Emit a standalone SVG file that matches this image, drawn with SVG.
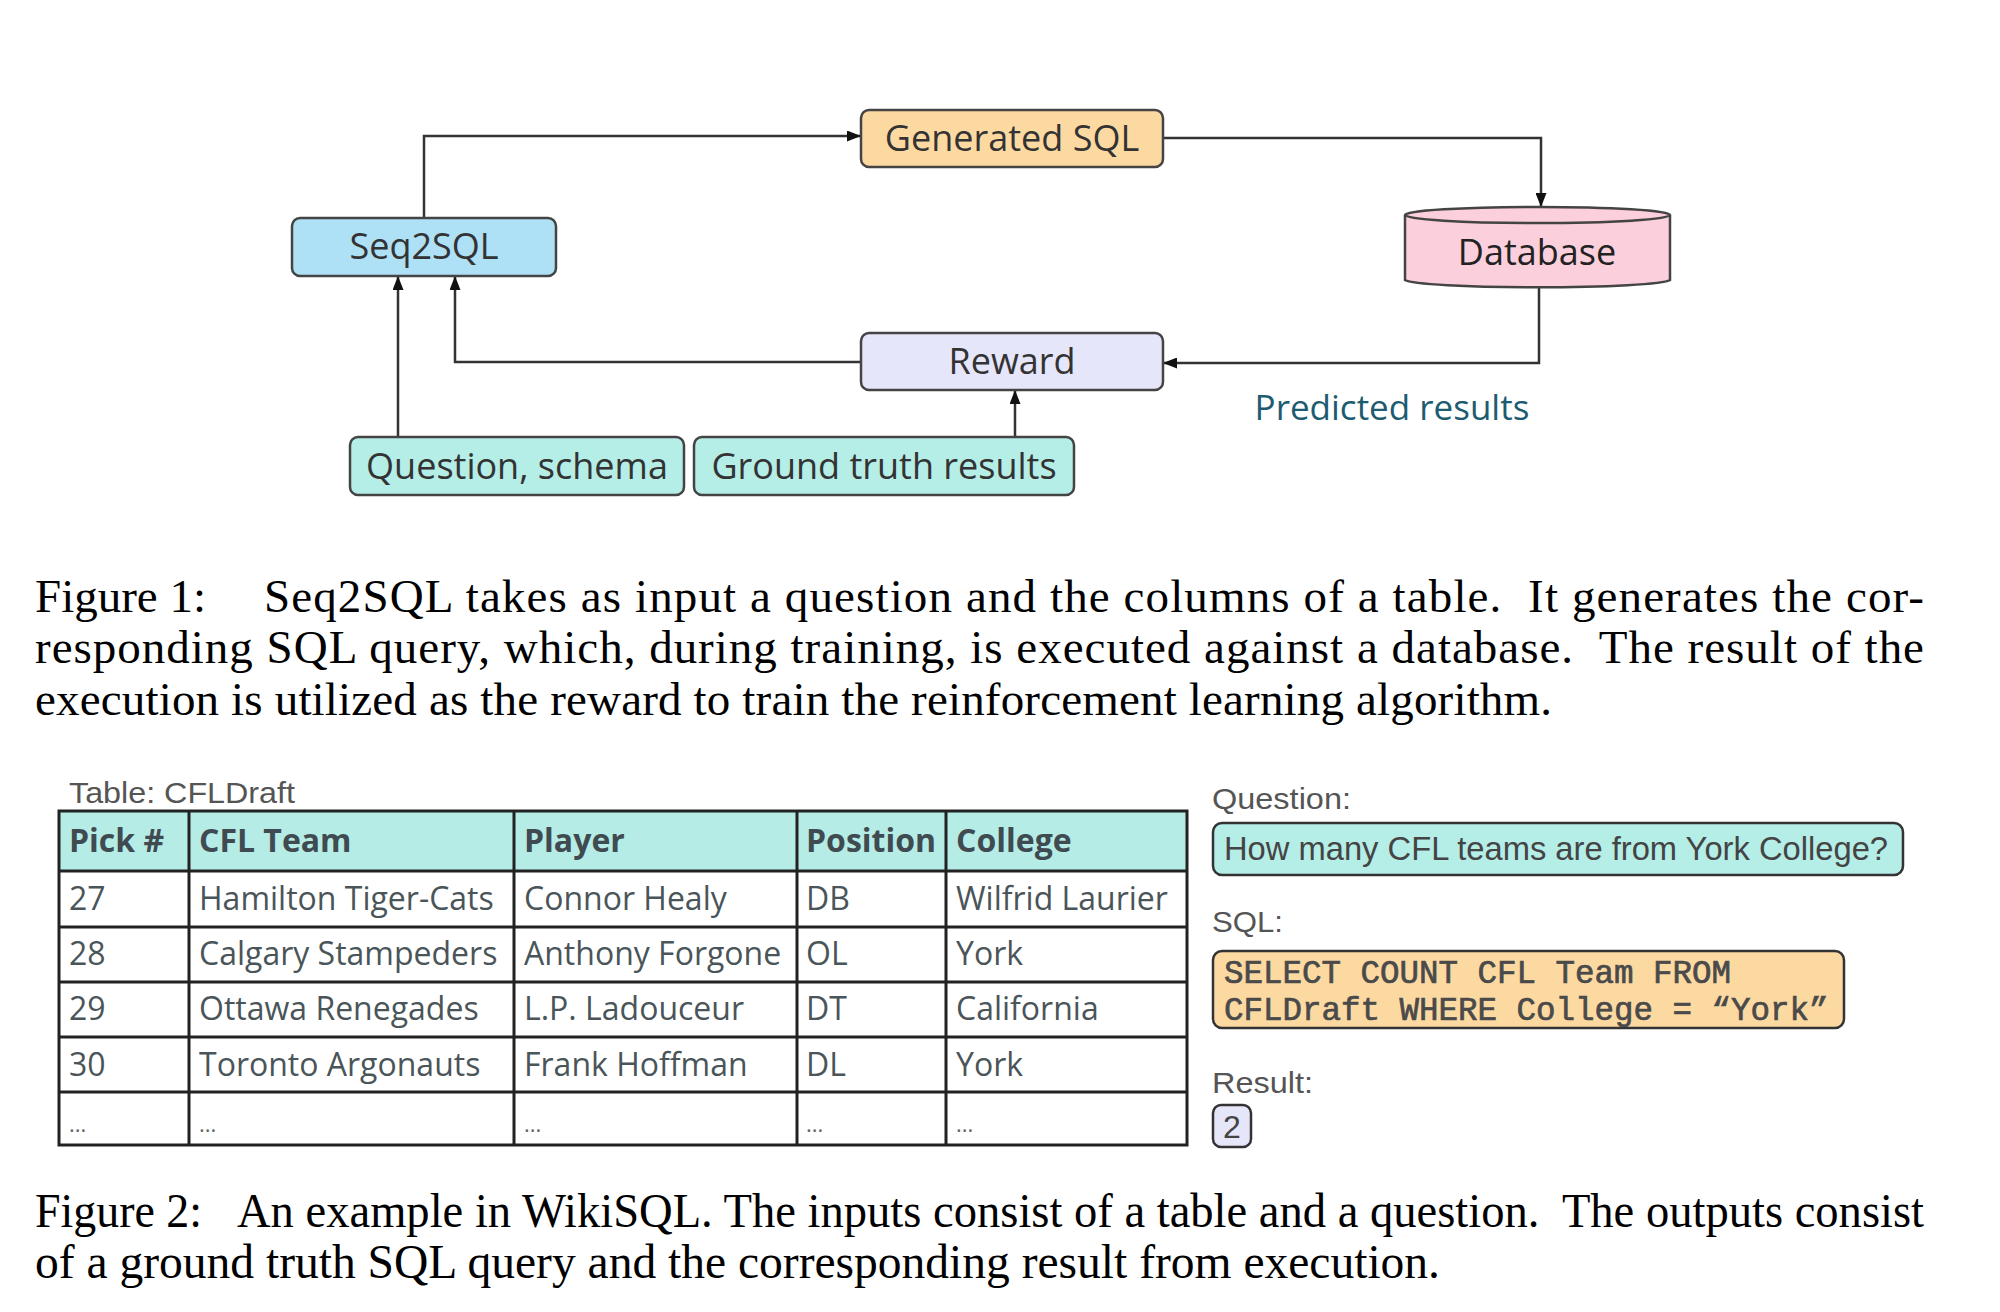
<svg xmlns="http://www.w3.org/2000/svg" width="2000" height="1312" viewBox="0 0 2000 1312">
<defs>
<marker id="arr" viewBox="0 0 14 11" refX="14" refY="5.5" markerWidth="14" markerHeight="11" markerUnits="userSpaceOnUse" orient="auto">
<path d="M0,0 L14,5.5 L0,11 Z" fill="#111"/>
</marker>
<style>
.box{stroke:#444;stroke-width:2.5}
.nt{font-family:"Open Sans","Noto Sans",sans-serif;font-size:36px;fill:#333;text-anchor:middle}
.conn{fill:none;stroke:#333;stroke-width:2.5}
.cap{font-family:"Liberation Serif","Times New Roman",serif;fill:#000}
.cell{font-family:"Open Sans","Noto Sans",sans-serif;font-size:32px;fill:#4a5559}
.dots{font-family:"Open Sans","Noto Sans",sans-serif;font-size:22px;fill:#666}
.hdr{font-family:"Open Sans","Noto Sans",sans-serif;font-size:32px;fill:#3f4b50;font-weight:bold}
.grid{stroke:#222;stroke-width:3;fill:none}
.lbl{font-family:"Liberation Sans",Arial,sans-serif;font-size:30px;fill:#555}
.mono{font-family:"Liberation Mono","Courier New",monospace;font-size:32.5px;fill:#4a4a4a;stroke:#4a4a4a;stroke-width:0.7}
</style>
</defs>
<rect width="2000" height="1312" fill="#fff"/>

<g id="connectors">
<path class="conn" d="M424,218 V136 H861" marker-end="url(#arr)"/>
<path class="conn" d="M1163,138 H1541 V207" marker-end="url(#arr)"/>
<path class="conn" d="M1539,287 V363 H1163" marker-end="url(#arr)"/>
<path class="conn" d="M861,362 H455 V276" marker-end="url(#arr)"/>
<path class="conn" d="M398,437 V276" marker-end="url(#arr)"/>
<path class="conn" d="M1015,437 V390" marker-end="url(#arr)"/>
</g>

<g id="node-generated-sql">
<rect class="box" x="861" y="110" width="302" height="57" rx="8" fill="#fdd9a2"/>
<text class="nt" x="1012" y="151">Generated SQL</text>
</g>
<g id="node-seq2sql">
<rect class="box" x="292" y="218" width="264" height="58" rx="8" fill="#aee0f6"/>
<text class="nt" x="424" y="259">Seq2SQL</text>
</g>
<g id="node-database">
<path class="box" d="M1405,215 V280 A133,8 0 0 0 1670,280 V215" fill="#fccfdc"/>
<ellipse class="box" cx="1537.5" cy="215" rx="132.5" ry="8" fill="#fccfdc"/>
<text class="nt" x="1537" y="265" style="fill:#222">Database</text>
</g>
<g id="node-reward">
<rect class="box" x="861" y="333" width="302" height="57" rx="8" fill="#e6e6fa"/>
<text class="nt" x="1012" y="374">Reward</text>
</g>
<g id="node-question-schema">
<rect class="box" x="350" y="437" width="334" height="58" rx="8" fill="#b5ede7"/>
<text class="nt" x="517" y="479">Question, schema</text>
</g>
<g id="node-ground-truth">
<rect class="box" x="694" y="437" width="380" height="58" rx="8" fill="#b5ede7"/>
<text class="nt" x="884" y="479">Ground truth results</text>
</g>
<g id="label-predicted">
<text x="1392" y="420" font-family="Open Sans,Noto Sans,sans-serif" font-size="35" fill="#1d5c70" text-anchor="middle">Predicted results</text>
</g>

<g id="caption1" class="cap" font-size="47">
<text x="35" y="612">Figure 1:</text>
<text x="264" y="612" textLength="1660" lengthAdjust="spacing" xml:space="preserve">Seq2SQL takes as input a question and the columns of a table.  It generates the cor-</text>
<text x="35" y="663" textLength="1889" lengthAdjust="spacing" xml:space="preserve">responding SQL query, which, during training, is executed against a database.  The result of the</text>
<text x="35" y="715" textLength="1517" lengthAdjust="spacing">execution is utilized as the reward to train the reinforcement learning algorithm.</text>
</g>

<g id="table">
<text class="lbl" x="69" y="803" textLength="226" lengthAdjust="spacingAndGlyphs">Table: CFLDraft</text>
<rect x="59" y="811" width="1128" height="60" fill="#b5ece6"/>
<rect class="grid" x="59" y="811" width="1128" height="334"/>
<path class="grid" d="M59,871 H1187 M59,927 H1187 M59,982 H1187 M59,1037 H1187 M59,1092 H1187 M189,811 V1145 M514,811 V1145 M797,811 V1145 M946,811 V1145"/>
<text class="hdr" x="69" y="852">Pick #</text>
<text class="hdr" x="199" y="852">CFL Team</text>
<text class="hdr" x="524" y="852">Player</text>
<text class="hdr" x="806" y="852">Position</text>
<text class="hdr" x="956" y="852">College</text>
<text class="cell" x="69" y="910">27</text>
<text class="cell" x="199" y="910">Hamilton Tiger-Cats</text>
<text class="cell" x="524" y="910">Connor Healy</text>
<text class="cell" x="806" y="910">DB</text>
<text class="cell" x="956" y="910">Wilfrid Laurier</text>
<text class="cell" x="69" y="965">28</text>
<text class="cell" x="199" y="965">Calgary Stampeders</text>
<text class="cell" x="524" y="965">Anthony Forgone</text>
<text class="cell" x="806" y="965">OL</text>
<text class="cell" x="956" y="965">York</text>
<text class="cell" x="69" y="1020">29</text>
<text class="cell" x="199" y="1020">Ottawa Renegades</text>
<text class="cell" x="524" y="1020">L.P. Ladouceur</text>
<text class="cell" x="806" y="1020">DT</text>
<text class="cell" x="956" y="1020">California</text>
<text class="cell" x="69" y="1076">30</text>
<text class="cell" x="199" y="1076">Toronto Argonauts</text>
<text class="cell" x="524" y="1076">Frank Hoffman</text>
<text class="cell" x="806" y="1076">DL</text>
<text class="cell" x="956" y="1076">York</text>
<text class="dots" x="69" y="1132">...</text>
<text class="dots" x="199" y="1132">...</text>
<text class="dots" x="524" y="1132">...</text>
<text class="dots" x="806" y="1132">...</text>
<text class="dots" x="956" y="1132">...</text>
</g>

<g id="question">
<text class="lbl" x="1212" y="809" textLength="139" lengthAdjust="spacingAndGlyphs">Question:</text>
<rect class="box" x="1213" y="823" width="690" height="52" rx="9" fill="#b5ede7" style="stroke:#333"/>
<text x="1224" y="860" font-family="Liberation Sans,Arial,sans-serif" font-size="34" fill="#444" textLength="664" lengthAdjust="spacingAndGlyphs">How many CFL teams are from York College?</text>
</g>
<g id="sql">
<text class="lbl" x="1212" y="932" textLength="71" lengthAdjust="spacingAndGlyphs">SQL:</text>
<rect class="box" x="1213" y="951" width="631" height="77" rx="9" fill="#fdd9a2" style="stroke:#333"/>
<text class="mono" x="1224" y="983">SELECT COUNT CFL Team FROM</text>
<text class="mono" x="1224" y="1020">CFLDraft WHERE College = “York”</text>
</g>
<g id="result">
<text class="lbl" x="1212" y="1093" textLength="101" lengthAdjust="spacingAndGlyphs">Result:</text>
<rect class="box" x="1213" y="1105" width="38" height="42" rx="8" fill="#e6e6fa" style="stroke:#333"/>
<text x="1232" y="1138" font-family="Liberation Sans,Arial,sans-serif" font-size="32" fill="#444" text-anchor="middle">2</text>
</g>

<g id="caption2" class="cap" font-size="48">
<text x="35" y="1227" textLength="167" lengthAdjust="spacingAndGlyphs">Figure 2:</text>
<text x="237" y="1227" textLength="1687" lengthAdjust="spacingAndGlyphs" xml:space="preserve">An example in WikiSQL. The inputs consist of a table and a question.  The outputs consist</text>
<text x="35" y="1278" textLength="1405" lengthAdjust="spacingAndGlyphs">of a ground truth SQL query and the corresponding result from execution.</text>
</g>
</svg>
